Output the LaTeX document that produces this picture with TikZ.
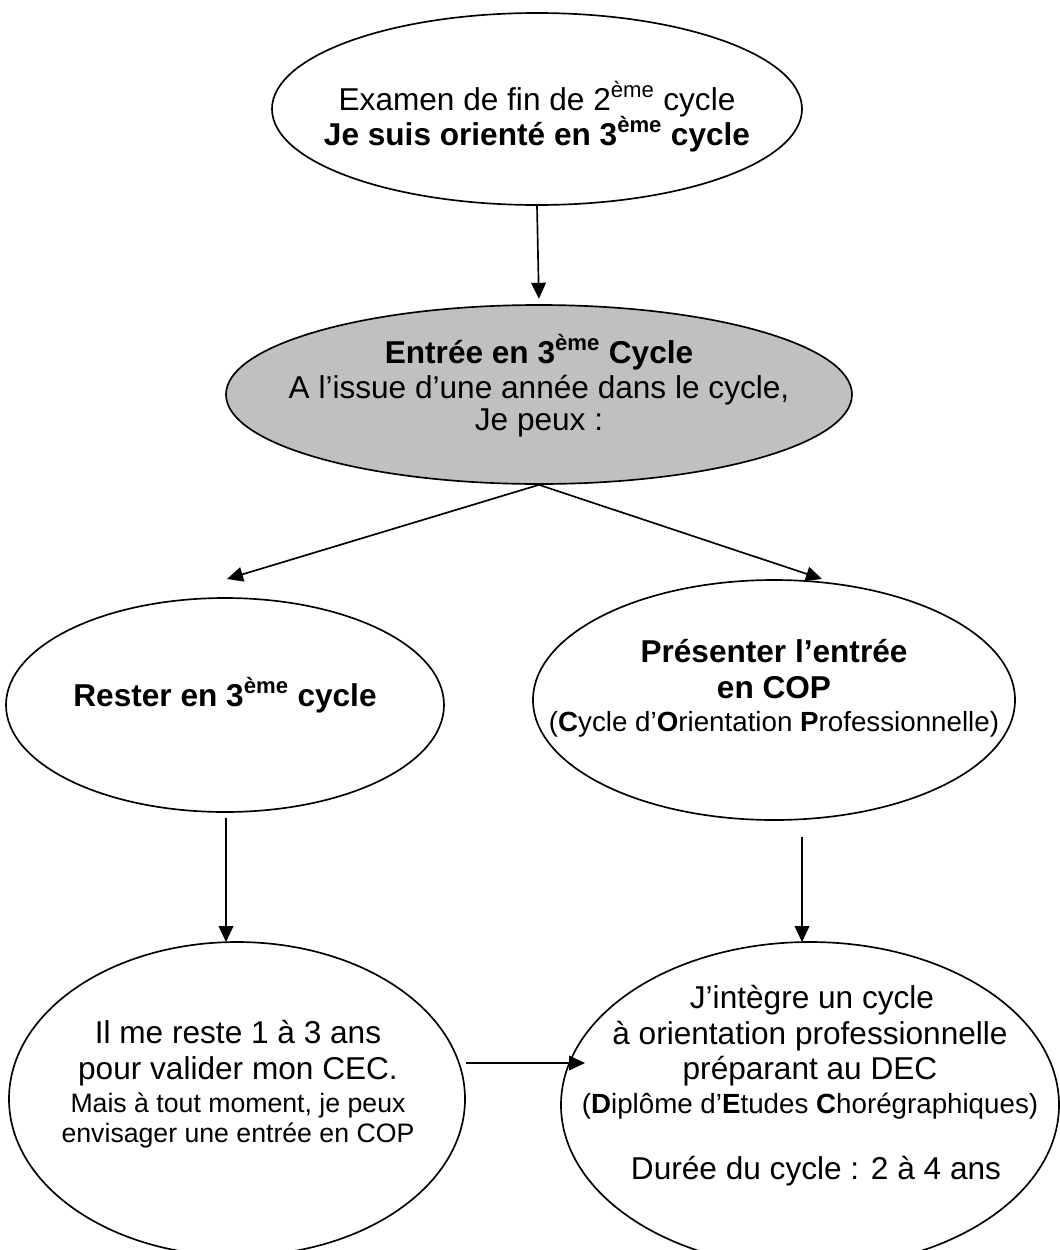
\documentclass[tikz,border=0pt]{standalone}
\usepackage{fontspec}
\setmainfont{Liberation Sans}
\usetikzlibrary{shapes.geometric,arrows.meta}
\newcommand{\mainsz}{\fontsize{23.7pt}{26.6pt}\selectfont}
\newcommand{\midsz}{\fontsize{20.8pt}{24pt}\selectfont}
\newcommand{\smlsz}{\fontsize{20pt}{22pt}\selectfont}
\newcommand{\eme}{\textsuperscript{ème}}
\begin{document}
\begin{tikzpicture}[x=0.75pt,y=-0.75pt,
  ell/.style={draw, ellipse, line width=1.25pt, inner sep=0pt},
  lbl/.style={anchor=base, inner sep=0pt, font=\mainsz},
  mid/.style={lbl, font=\midsz},
  sml/.style={lbl, font=\smlsz},
  arr/.style={line width=1.25pt, -{Triangle[length=12pt,width=11pt]}}]
\useasboundingbox[clip] (0,0) rectangle (1060,1250);
% ellipses (sizes in pt = px * 0.75)
\node[ell, minimum width=397.5pt, minimum height=144pt] (e1) at (537,109) {};
\node[ell, fill={rgb,255:red,192;green,192;blue,192}, minimum width=469.5pt, minimum height=134.25pt] (e2) at (539,394.5) {};
\node[ell, minimum width=328.5pt, minimum height=160.5pt] (e3) at (225,705) {};
\node[ell, minimum width=361.5pt, minimum height=180pt] (e4) at (774,700) {};
\node[ell, minimum width=342pt, minimum height=235.5pt] (e5) at (237,1099) {};
\node[ell, minimum width=373.5pt, minimum height=244.5pt] (e6) at (810,1105) {};
% texts
\node[lbl] (t1a) at (537,110) {Examen de fin de 2\eme{} cycle};
\node[lbl] (t1b) at (537,145) {\bfseries Je suis orienté en 3\eme{} cycle};
\node[lbl] (t2a) at (539,363) {\bfseries Entrée en 3\eme{} Cycle};
\node[lbl] (t2b) at (539,398) {A l’issue d’une année dans le cycle,};
\node[lbl] (t2c) at (539,430) {Je peux :};
\node[lbl] (t3) at (225,706) {\bfseries Rester en 3\eme{} cycle};
\node[lbl] (t4a) at (774,662) {\bfseries Présenter l’entrée};
\node[lbl] (t4b) at (774,698) {\bfseries en COP};
\node[mid] (t4c) at (774,731) {(\textbf{C}ycle d’\textbf{O}rientation \textbf{P}rofessionnelle)};
\node[lbl] (t5a) at (238,1043) {Il me reste 1 à 3 ans};
\node[lbl] (t5b) at (238,1079) {pour valider mon CEC.};
\node[sml] (t5c) at (238,1112) {Mais à tout moment, je peux};
\node[sml] (t5d) at (238,1142) {envisager une entrée en COP};
\node[lbl] (t6a) at (812,1008) {J’intègre un cycle};
\node[lbl] (t6b) at (810,1044) {à orientation professionnelle};
\node[lbl] (t6c) at (810,1079) {préparant au DEC};
\node[mid] (t6d) at (810,1113) {(\textbf{D}iplôme d’\textbf{E}tudes \textbf{C}horégraphiques)};
\node[lbl] (t6e) at (816,1179) {Durée du cycle : 2 à 4 ans};
% free ends
\coordinate (c2) at (227,579);
\coordinate (c3) at (822,579);
\coordinate (c4a) at (226,818);
\coordinate (c4b) at (226,942);
\coordinate (c5a) at (802,837);
\coordinate (c5b) at (802,942);
\coordinate (c6a) at (466,1063);
\coordinate (c6b) at (585,1063);
% connectors
\draw[arr, shorten >=4pt] (e1.south) -- (e2.north);
\draw[arr] (e2.south) -- (c2);
\draw[arr] (e2.south) -- (c3);
\draw[arr] (c4a) -- (c4b);
\draw[arr] (c5a) -- (c5b);
\draw[arr] (c6a) -- (c6b);
\end{tikzpicture}
\end{document}
